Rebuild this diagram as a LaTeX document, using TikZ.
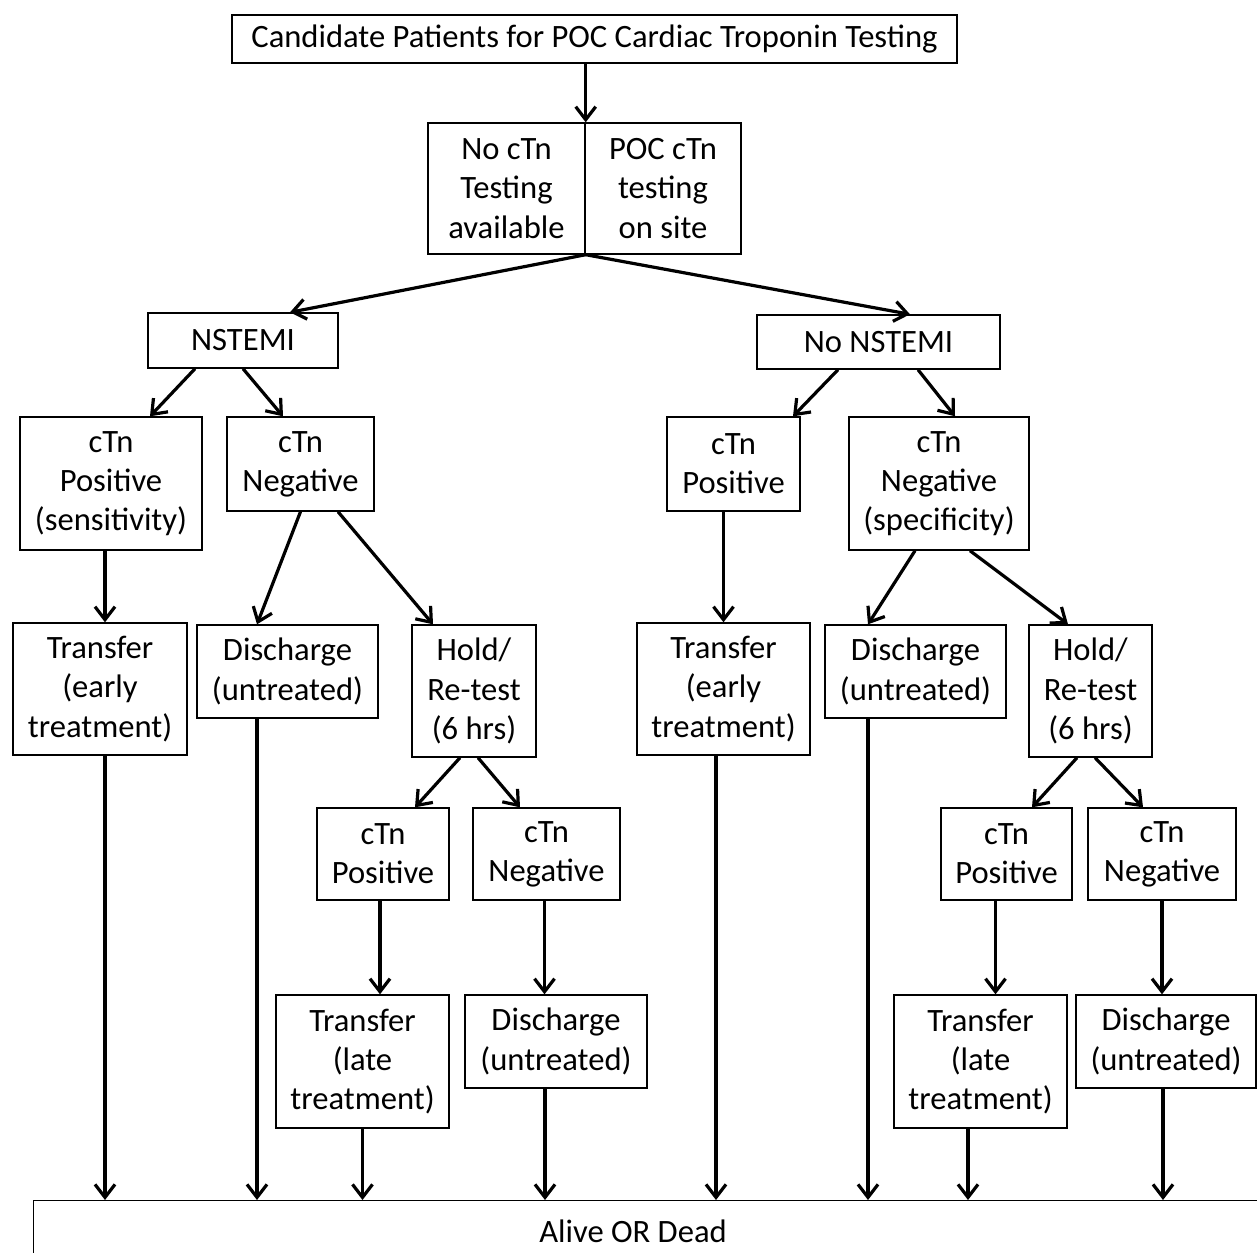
\documentclass[tikz,border=0pt]{standalone}
\usepackage{fontspec}
\setmainfont{Carlito}
\usetikzlibrary{arrows.meta}

\begin{document}
\begin{tikzpicture}[x=0.5pt,y=-0.5pt,
  box/.style={draw,line width=0.7pt,align=center,inner sep=1pt,font=\fontsize{16.3}{19.6}\selectfont},
  arr/.style={line width=1.6pt,-{Straight Barb[length=6.5pt,width=10pt]}}]
\useasboundingbox (0,0) rectangle (1257,1252);
% top of the tree
\node[box,minimum width=362.5pt,minimum height=24pt] (cand) at (594.5,39) {Candidate Patients for POC Cardiac Troponin Testing};
\node[box,minimum width=78.5pt,minimum height=65.5pt] (notest) at (506.5,188.5) {No cTn\\Testing\\available};
\node[box,minimum width=78pt,minimum height=65.5pt] (poc) at (663,188.5) {POC cTn\\testing\\on site};
\node[box,minimum width=95pt,minimum height=27.5pt] (nstemi) at (243,340.5) {NSTEMI};
\node[box,minimum width=121.5pt,minimum height=27pt] (nonstemi) at (878.5,342) {No NSTEMI};
% first test
\node[box,minimum width=91pt,minimum height=66.5pt] (pos1) at (111,483.5) {cTn\\Positive\\(sensitivity)};
\node[box,minimum width=73.5pt,minimum height=47pt] (neg1) at (300.5,464) {cTn\\Negative};
\node[box,minimum width=66.5pt,minimum height=47pt] (pos2) at (733.5,464) {cTn\\Positive};
\node[box,minimum width=90pt,minimum height=66.5pt] (neg2) at (939,483.5) {cTn\\Negative\\(specificity)};
% what happens next
\node[box,minimum width=87pt,minimum height=66pt] (tr1) at (100,689) {Transfer\\(early\\treatment)};
\node[box,minimum width=90.5pt,minimum height=46.5pt] (dis1) at (287.5,671.5) {Discharge\\(untreated)};
\node[box,minimum width=62pt,minimum height=66pt] (hold1) at (474,691) {Hold/\\Re-test\\(6 hrs)};
\node[box,minimum width=86.5pt,minimum height=66pt] (tr2) at (723.5,689) {Transfer\\(early\\treatment)};
\node[box,minimum width=90.5pt,minimum height=46.5pt] (dis2) at (915.5,671.5) {Discharge\\(untreated)};
\node[box,minimum width=61.5pt,minimum height=66pt] (hold2) at (1090.5,691) {Hold/\\Re-test\\(6 hrs)};
% re-test
\node[box,minimum width=66pt,minimum height=46pt] (pos3) at (383,854) {cTn\\Positive};
\node[box,minimum width=73.5pt,minimum height=46pt] (neg3) at (546.5,854) {cTn\\Negative};
\node[box,minimum width=65.5pt,minimum height=46pt] (pos4) at (1006.5,854) {cTn\\Positive};
\node[box,minimum width=74pt,minimum height=46pt] (neg4) at (1162,854) {cTn\\Negative};
\node[box,minimum width=86.5pt,minimum height=66.5pt] (trl1) at (362.5,1061.5) {Transfer\\(late\\treatment)};
\node[box,minimum width=91pt,minimum height=46.5pt] (dis3) at (556,1041.5) {Discharge\\(untreated)};
\node[box,minimum width=86.5pt,minimum height=66.5pt] (trl2) at (980.5,1061.5) {Transfer\\(late\\treatment)};
\node[box,minimum width=90pt,minimum height=46.5pt] (dis4) at (1166,1041.5) {Discharge\\(untreated)};
% outcome
\node[box,anchor=north west,minimum width=650pt,minimum height=40pt] (alive) at (33,1200) {};
\node[font=\fontsize{16.3}{19.6}\selectfont] (alivetxt) at (633,1231) {Alive OR Dead};

\draw[arr] (cand.south -| notest.north east) -- (notest.north east);
\draw[arr] (notest.south east) -- ([xshift=23.5pt]nstemi.north);
\draw[arr] (notest.south east) -- ([xshift=15.75pt]nonstemi.north);
\draw[arr] ([xshift=-24pt]nstemi.south) -- ([xshift=19.5pt]pos1.north);
\draw[arr] (nstemi.south) -- ([xshift=-8.75pt]neg1.north);
\draw[arr] ([xshift=-20.25pt]nonstemi.south) -- ([xshift=29.75pt]pos2.north);
\draw[arr] ([xshift=19.75pt]nonstemi.south) -- ([xshift=8pt]neg2.north);
\draw[arr] ([xshift=2.5pt]tr1.north |- pos1.south) -- ([xshift=2.5pt]tr1.north);
\draw[arr] (neg1.south) -- ([xshift=-15.25pt]dis1.north);
\draw[arr] ([xshift=18.75pt]neg1.south) -- ([xshift=-20.5pt]hold1.north);
\draw[arr] (tr2.north |- pos2.south) -- (tr2.north);
\draw[arr] ([xshift=-12pt]neg2.south) -- ([xshift=-23.75pt]dis2.north);
\draw[arr] ([xshift=15.5pt]neg2.south) -- ([xshift=-11.25pt]hold2.north);
\draw[arr] ([xshift=-7pt]hold1.south) -- ([xshift=16pt]pos3.north);
\draw[arr] ([xshift=2pt]hold1.south) -- ([xshift=-13.25pt]neg3.north);
\draw[arr] ([xshift=-6.75pt]hold2.south) -- ([xshift=12.75pt]pos4.north);
\draw[arr] ([xshift=2.25pt]hold2.south) -- ([xshift=-9.5pt]neg4.north);
\draw[arr] ([xshift=-1.5pt]pos3.south) -- ([xshift=-1.5pt]pos3.south |- trl1.north);
\draw[arr] ([xshift=-1pt]neg3.south) -- ([xshift=-1pt]neg3.south |- dis3.north);
\draw[arr] ([xshift=-5.5pt]pos4.south) -- ([xshift=-5.5pt]pos4.south |- trl2.north);
\draw[arr] (neg4.south) -- (neg4.south |- dis4.north);
% everything ends in the outcome box
\foreach \n/\s in {tr1/2.5,dis1/-15.25,trl1/0,dis3/-5.5,tr2/-3.75,dis2/-23.75,trl2/-6.25,dis4/-1.5}
  \draw[arr] ([xshift=\s pt]\n.south) -- ([xshift=\s pt]\n.south |- alive.north);
\end{tikzpicture}
\end{document}
